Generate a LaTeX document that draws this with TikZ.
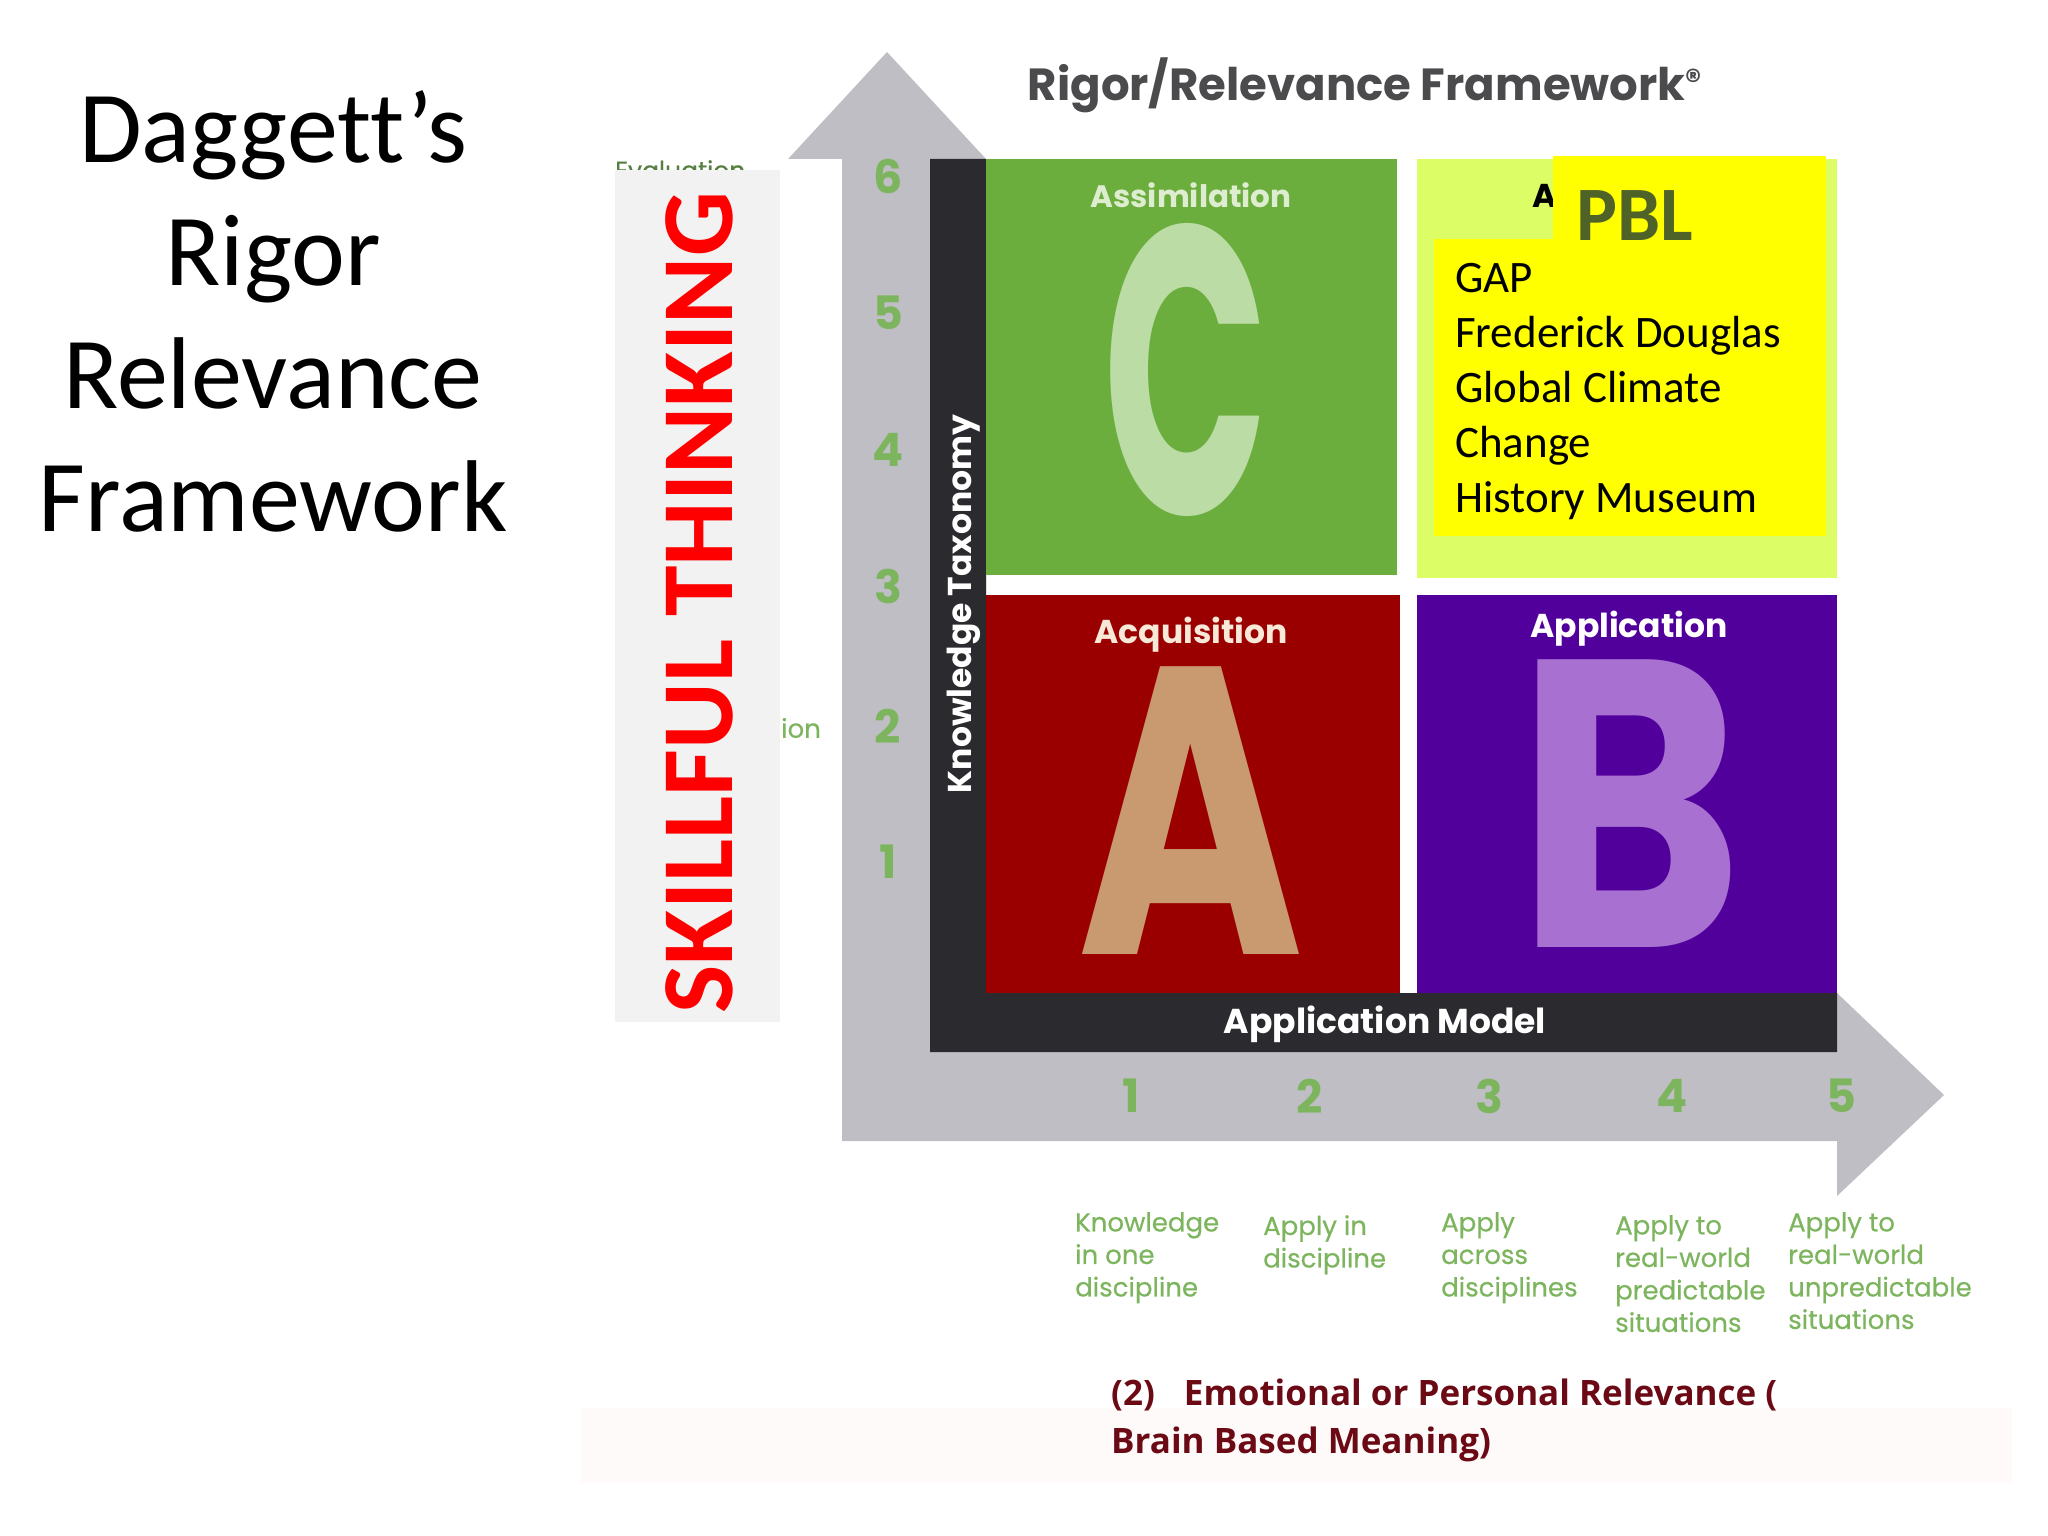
\documentclass[tikz,border=0pt]{standalone}
\usepackage{fontspec}
\setmainfont[Ligatures=NoCommon]{Carlito}
\newfontfamily\gothicfont{Poppins}
\newfontfamily\scalefont[FakeBold=0.5]{Poppins}
\newfontfamily\bandfont{Open Sans}
\definecolor{arrowgray}{HTML}{BEBEC4}
\definecolor{framedark}{HTML}{2B2A2E}
\definecolor{assimgreen}{HTML}{6BAE3E}
\definecolor{adaptlime}{HTML}{DDFD66}
\definecolor{acqred}{HTML}{9B0000}
\definecolor{applpurple}{HTML}{52009C}
\definecolor{scalegreen}{HTML}{7DB55E}
\definecolor{pblolive}{HTML}{4F6228}
\definecolor{relevred}{HTML}{6B0A14}
\definecolor{boxyellow}{HTML}{FFFF00}
\definecolor{letterC}{HTML}{BBDCA5}
\definecolor{letterA}{HTML}{C99A70}
\definecolor{letterB}{HTML}{A870D0}
\tikzset{
	quadlabel/.style={inner sep=0pt, font=\gothicfont\bfseries\fontsize{33}{38}\selectfont},
	bigletter/.style={inner sep=0pt, font=\gothicfont\bfseries\fontsize{410}{410}\selectfont},
	scalenum/.style={inner sep=0pt, text=scalegreen, font=\gothicfont\bfseries\fontsize{46}{50}\selectfont},
	scaletext/.style={inner sep=0pt, anchor=north west, align=left, text=scalegreen,
			font=\scalefont\fontsize{26}{32.5}\selectfont},
	relevtext/.style={inner sep=0pt, anchor=west, text=relevred,
			font=\bandfont\bfseries\fontsize{35}{38}\selectfont}
}

\begin{document}
\begin{tikzpicture}[x=1pt, y=-1pt]
		\useasboundingbox (0,0) rectangle (2048,1536);
		% arrows and frame
		\fill [arrowgray]	(887,52) -- (986,159) -- (986,1052) -- (1837,1052) -- (1837,993) -- (1944,1095)
							-- (1837,1196) -- (1837,1141) -- (842,1141) -- (842,159) -- (788,159) -- cycle;
		\fill [framedark]	(930,159) -- (986,159) -- (986,993) -- (1837,993) -- (1837,1052) -- (930,1052) -- cycle;
		% quadrants
		\fill [assimgreen]	(986,159) rectangle (1397,575);
		\fill [adaptlime]	(1417,159) rectangle (1837,578);
		\fill [acqred]		(986,595) rectangle (1400,993);
		\fill [applpurple]	(1417,595) rectangle (1837,993);
		\node [bigletter, text=letterC, xscale=.53] (bigC) at (1186,370) {C};
		\node [bigletter, text=letterA, xscale=.75] (bigA) at (1191,811) {A};
		\node [bigletter, text=letterB, xscale=.84] (bigB) at (1630,804) {B};
		\node [quadlabel, text={rgb,255:red,222;green,236;blue,208}, font=\gothicfont\bfseries\fontsize{31}{38}\selectfont] (assim) at (1191,195) {Assimilation};
		\node [quadlabel, text={rgb,255:red,247;green,232;blue,216}] (acq) at (1191,635) {Acquisition};
		\node [quadlabel, text=white] (appl) at (1629,629) {Application};
		\node [quadlabel, text=white, font=\gothicfont\bfseries\fontsize{34.5}{38}\selectfont] (model) at (1385,1024) {Application Model};
		\node [quadlabel, text=white, rotate=90] (taxon) at (964,604) {Knowledge Taxonomy};
		\node [quadlabel, text=black, anchor=west] (adapt) at (1532,196) {A};
		% overlay boxes
		\fill [boxyellow]	(1553,156) rectangle (1826,240);
		\fill [boxyellow]	(1434,239) rectangle (1826,536);
		\node [inner sep=0pt, anchor=base west, text=pblolive, font=\bfseries\fontsize{77}{80}\selectfont] (pbl) at (1576,240) {PBL};
		\node [inner sep=0pt, anchor=north west, align=left, font=\fontsize{45}{55}\selectfont] (projects) at (1455,263)
			{GAP\\Frederick Douglas\\Global Climate\\Change\\History Museum};
		% title
		\node [inner sep=0pt, align=center, font=\fontsize{102}{123}\selectfont] (heading) at (273,311)
			{Daggett’s\\Rigor\\Relevance\\Framework};
		\node [inner sep=0pt, text=framedark!85, font=\gothicfont\bfseries\fontsize{45}{50}\selectfont] (frame) at (1365,85)
			{Rigor/Relevance Framework\textsuperscript{\textregistered}};
		% thinking side
		\node [scaletext, anchor=north west, font=\scalefont\fontsize{25}{30}\selectfont, text=scalegreen!70!black] (evalu) at (615,160) {Evaluation};
		\node [scaletext, anchor=west] (ion) at (781,728) {ion};
		\fill [black!5]		(615,170) rectangle (780,1022);
		\node [inner sep=0pt, text=red, rotate=90, font=\bfseries\fontsize{102}{110}\selectfont] (skill) at (699,603) {SKILLFUL THINKING};
		% scale numbers
		\node [scalenum] (k6) at (888,176) {6};
		\node [scalenum] (k5) at (888,313) {5};
		\node [scalenum] (k4) at (888,450) {4};
		\node [scalenum] (k3) at (888,586) {3};
		\node [scalenum] (k2) at (888,726) {2};
		\node [scalenum] (k1) at (888,862) {1};
		\node [scalenum] (a1) at (1131,1096) {1};
		\node [scalenum] (a2) at (1310,1096) {2};
		\node [scalenum] (a3) at (1489,1096) {3};
		\node [scalenum] (a4) at (1672,1096) {4};
		\node [scalenum] (a5) at (1841,1096) {5};
		\node [scaletext] (t1) at (1075,1212) {Knowledge\\in one\\discipline};
		\node [scaletext] (t2) at (1263,1215) {Apply in\\discipline};
		\node [scaletext] (t3) at (1441,1212) {Apply\\across\\disciplines};
		\node [scaletext] (t4) at (1615,1215) {Apply to\\real-world\\predictable\\situations};
		\node [scaletext] (t5) at (1788,1212) {Apply to\\real-world\\unpredictable\\situations};
		% relevance note
		\fill [red!2]		(581,1408) rectangle (2012,1483);
		\node [relevtext] (rel1) at (1111,1395) {(2)\hspace{29pt}Emotional or Personal Relevance (};
		\node [relevtext] (rel2) at (1111,1444) {Brain Based Meaning)};
	\end{tikzpicture}
\end{document}
